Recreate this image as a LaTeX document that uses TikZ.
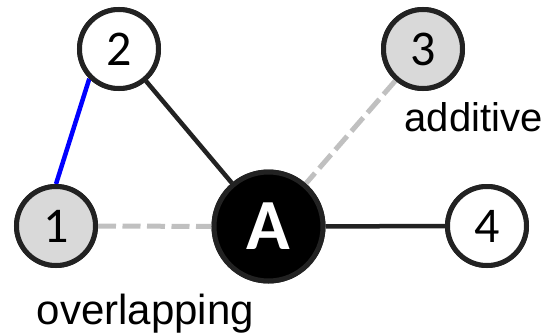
\documentclass[tikz,border=0pt]{standalone}
\usepackage{fontspec}
\setmainfont{Liberation Sans}
\newfontfamily\numfont{Carlito}
\definecolor{edgegray}{HTML}{222222}
\definecolor{fillgray}{HTML}{D9D9D9}
\definecolor{dashgray}{HTML}{C0C0C0}
\begin{document}
\begin{tikzpicture}[x=1pt,y=-1pt,
  vnode/.style={circle,draw=edgegray,line width=5pt,fill=white,minimum size=79pt,inner sep=0pt,font=\numfont\fontsize{50}{50}\selectfont},
  gnode/.style={vnode,fill=fillgray},
  anode/.style={circle,draw=edgegray,line width=5pt,fill=black,text=white,minimum size=109pt,inner sep=0pt,font=\numfont\bfseries\fontsize{72}{72}\selectfont},
  solidedge/.style={draw=edgegray,line width=4.5pt},
  blueedge/.style={draw=blue,line width=4.5pt},
  dashedge/.style={draw=dashgray,line width=5pt,dash pattern=on 18pt off 6.5pt},
  lbl/.style={anchor=base,inner sep=0pt}]
\useasboundingbox (0,0) rectangle (552,335);
\node[vnode] (n2) at (119,49) {};
\node[gnode] (n3) at (423,49) {};
\node[gnode] (n1) at (56,226) {};
\node[vnode] (n4) at (487,226) {};
\node[anode] (A) at (268.5,226.5) {};
\draw[blueedge] (n1.north) -- (n2.south west);
\draw[solidedge] (n2) -- (A);
\draw[dashedge] (n3) -- (A);
\draw[dashedge] (n1) -- (A);
\draw[solidedge] (A) -- (n4);
\node[vnode] at (n2) {2};
\node[gnode] at (n3) {3};
\node[gnode] at (n1) {1};
\node[vnode] at (n4) {4};
\node[anode] at (A) {A};
\node[lbl,font=\fontsize{40}{40}\selectfont] (add) at (473.5,131.7) {additive};
\node[lbl,font=\fontsize{42}{42}\selectfont] (ovl) at (145.5,324.5) {overlapping};
\end{tikzpicture}
\end{document}
